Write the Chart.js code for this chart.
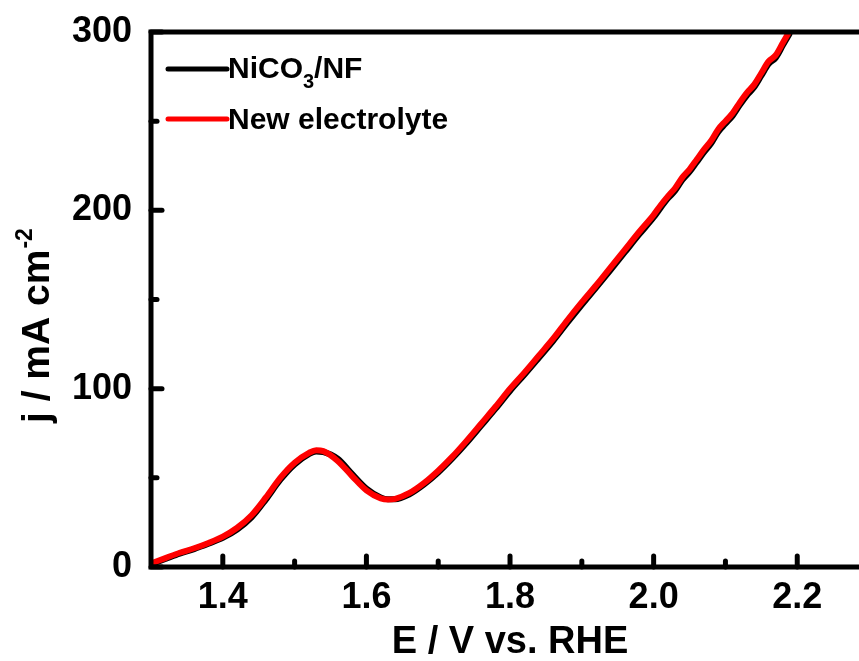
<!DOCTYPE html>
<html>
<head>
<meta charset="utf-8">
<script src="https://cdn.jsdelivr.net/npm/chart.js@4/dist/chart.umd.min.js"></script>
<style>
  html, body { margin: 0; padding: 0; background: #fff; overflow: hidden; }
  #wrap { width: 859px; height: 661px; }
  canvas { display: block; }
</style>
</head>
<body>
<div id="wrap"><canvas id="lsv" width="859" height="661"></canvas></div>
<script>
// E / V vs. RHE
const potential = [1.30, 1.32, 1.34, 1.36, 1.38, 1.40, 1.42, 1.44, 1.46, 1.48, 1.50, 1.52, 1.53, 1.54, 1.56, 1.58, 1.60, 1.62, 1.63, 1.64,
  1.66, 1.68, 1.70, 1.72, 1.74, 1.76, 1.78, 1.80, 1.82, 1.84, 1.86, 1.88, 1.90, 1.92, 1.94, 1.96, 1.98, 2.00,
  2.01, 2.02, 2.03, 2.04, 2.05, 2.06, 2.07, 2.08, 2.09, 2.10, 2.11, 2.12, 2.13, 2.14, 2.15, 2.16, 2.17, 2.18, 2.19];

// j / mA cm-2
const niCO3NF = [1.5, 4.5, 7.5, 10, 13, 16.3, 21, 27.8, 37.8, 48.8, 57.5, 63.3, 64.8, 64.5, 60.7, 52.2, 44, 39, 38, 38,
  40.8, 46.2, 53, 61, 69.8, 79.3, 88.8, 98.7, 107.8, 117.2, 126.7, 137, 147, 156.7, 166.5, 176.5, 186.5, 196,
  201.5, 206.7, 211, 217, 221.5, 227, 232.5, 237.5, 244, 248.5, 253, 259, 264.5, 269, 275.5, 282, 285.5, 292.5, 299.5];

const newElectrolyte = [2, 5, 8, 10.5, 13.5, 17, 22, 29, 39, 50, 58.5, 64, 65.5, 65, 59.5, 51, 43, 38.5, 37.8, 38.2,
  41.5, 47, 54, 62, 71, 80.5, 90, 100, 109, 118.5, 128, 138.5, 148.5, 158, 168, 178, 188, 197.5,
  203, 208, 212.5, 218.5, 223, 228.5, 234, 239, 245.5, 250, 254.5, 260.5, 266, 270.5, 277, 283.5, 287, 294, 301];

const xTicks = [1.4, 1.6, 1.8, 2.0, 2.2];
const xMinor = [1.5, 1.7, 1.9, 2.1];
const yTicks = [0, 100, 200, 300];
const yMinor = [50, 150, 250];

const FONT = "'Liberation Sans', Arial, sans-serif";
Chart.defaults.font.family = FONT;
Chart.defaults.color = "#000";

const toPoints = (ys) => potential.map((x, i) => ({ x: x, y: ys[i] }));

// frame (right side is cut off in the original), inward ticks, axis titles and legend
const decor = {
  id: "decor",
  afterDraw(chart) {
    const ctx = chart.ctx;
    const { left, top, right, bottom } = chart.chartArea;
    const sx = chart.scales.x, sy = chart.scales.y;
    ctx.save();
    ctx.strokeStyle = "#000";
    ctx.lineCap = "round";
    ctx.lineWidth = 5;
    const tick = (x1, y1, x2, y2) => {
      ctx.beginPath(); ctx.moveTo(x1, y1); ctx.lineTo(x2, y2); ctx.stroke();
    };
    xTicks.forEach(v => { const p = sx.getPixelForValue(v); tick(p, bottom, p, bottom - 11); });
    xMinor.forEach(v => { const p = sx.getPixelForValue(v); tick(p, bottom, p, bottom - 6); });
    yTicks.forEach(v => { const p = sy.getPixelForValue(v); tick(left, p, left + 11, p); });
    yMinor.forEach(v => { const p = sy.getPixelForValue(v); tick(left, p, left + 6, p); });

    ctx.lineCap = "square";
    ctx.beginPath();
    ctx.moveTo(right + 5, top);
    ctx.lineTo(left, top);
    ctx.lineTo(left, bottom);
    ctx.lineTo(right + 5, bottom);
    ctx.stroke();

    // axis titles
    ctx.fillStyle = "#000";
    ctx.font = "bold 38px " + FONT;
    ctx.textAlign = "center";
    ctx.textBaseline = "alphabetic";
    ctx.fillText("E / V vs. RHE", 510, 653);

    ctx.save();
    ctx.translate(49, 423);
    ctx.rotate(-Math.PI / 2);
    ctx.textAlign = "left";
    ctx.font = "bold 39px " + FONT;
    ctx.fillText("j / mA cm", 0, 0);
    const w = ctx.measureText("j / mA cm").width;
    ctx.font = "bold 23px " + FONT;
    ctx.fillText("-2", w + 1, -17);
    ctx.restore();

    // legend
    const ds = chart.data.datasets;
    ctx.lineCap = "round";
    ctx.lineWidth = 5;
    ctx.textAlign = "left";
    ctx.strokeStyle = ds[1].borderColor;
    tick(168, 69, 227, 69);
    ctx.strokeStyle = ds[0].borderColor;
    tick(168, 119, 227, 119);

    let x = 228;
    ctx.font = "bold 30px " + FONT;
    ctx.fillText("NiCO", x, 78);
    x += ctx.measureText("NiCO").width;
    ctx.font = "bold 20px " + FONT;
    ctx.fillText("3", x, 88);
    x += ctx.measureText("3").width;
    ctx.font = "bold 30px " + FONT;
    ctx.fillText("/NF", x, 78);
    ctx.fillText("New electrolyte", 228, 129);
    ctx.restore();
  }
};

new Chart(document.getElementById("lsv"), {
  type: "line",
  data: {
    datasets: [
      {
        label: "New electrolyte",
        data: toPoints(newElectrolyte),
        borderColor: "#ff0000",
        borderWidth: 6,
        order: 0
      },
      {
        label: "NiCO3/NF",
        data: toPoints(niCO3NF),
        borderColor: "#000000",
        borderWidth: 6,
        order: 1
      }
    ]
  },
  options: {
    responsive: false,
    animation: false,
    events: [],
    cubicInterpolationMode: "monotone",
    elements: { point: { radius: 0 } },
    layout: { padding: { top: 32, right: 0, left: 0, bottom: 0 } },
    plugins: { legend: { display: false }, tooltip: { enabled: false } },
    scales: {
      x: {
        type: "linear",
        min: 1.3,
        max: 2.286,
        afterBuildTicks: (s) => { s.ticks = xTicks.map(v => ({ value: v })); },
        afterFit: (s) => { s.height = 94; s.paddingLeft = 0; s.paddingRight = 0; },
        grid: { display: false, drawTicks: false },
        border: { display: false },
        ticks: {
          font: { size: 36, weight: "bold" },
          color: "#000",
          padding: 9,
          maxRotation: 0,
          autoSkip: false,
          callback: (v) => Number(v).toFixed(1)
        }
      },
      y: {
        min: 0,
        max: 300,
        afterBuildTicks: (s) => { s.ticks = yTicks.map(v => ({ value: v })); },
        afterFit: (s) => { s.width = 151; s.paddingTop = 0; s.paddingBottom = 0; },
        grid: { display: false, drawTicks: false },
        border: { display: false },
        ticks: {
          font: { size: 36, weight: "bold" },
          color: "#000",
          padding: 19,
          callback: (v) => String(v)
        }
      }
    }
  },
  plugins: [decor]
});
</script>
</body>
</html>
